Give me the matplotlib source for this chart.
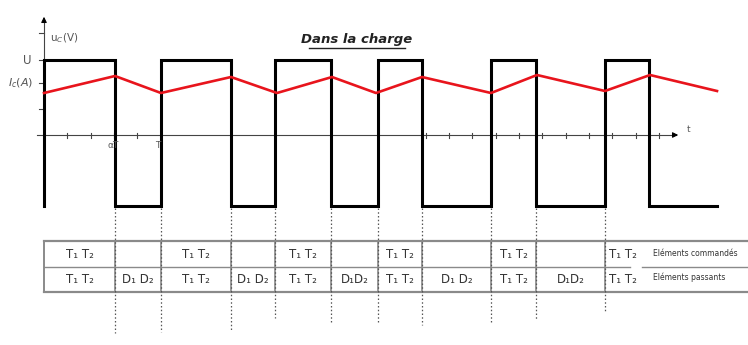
import numpy as np
import matplotlib.pyplot as plt

# échelle : 1 unité = 1 px, origine sur l'axe des temps
t0, t_end = 44, 717
fronts = [115, 161, 231, 275, 331, 378, 422, 491, 536, 605, 649]  # commutations
u_haut, u_bas = 75, -71  # +U / -U

# courant ic(t), sommets du triangle
ic_t = [44, 115, 161, 231, 277, 332, 376, 422, 491, 537, 605, 650, 717]
ic_val = [42, 59, 42, 58, 42, 58, 42, 58, 42, 60, 44, 60, 44]

# graduations
xticks_g = [67, 91, 114, 137]
xticks_d = [426, 449, 472, 496, 519, 542, 566, 589, 612, 636, 659]
yticks = [102, 75, 52, 26]

# tableau
cmd = ['T₁ T₂', '', 'T₁ T₂', '', 'T₁ T₂', '', 'T₁ T₂', '', 'T₁ T₂', '', 'T₁ T₂']
pas = ['T₁ T₂', 'D₁ D₂', 'T₁ T₂', 'D₁ D₂', 'T₁ T₂', 'D₁D₂', 'T₁ T₂', 'D₁ D₂', 'T₁ T₂', 'D₁D₂', 'T₁ T₂']
fin_pointilles = [-198, -197, -195, -183, -187, -188, -190, -187, -185, -178]

fig = plt.figure(figsize=(7.48, 3.45), dpi=100)
ax = fig.add_axes([0, 0, 1, 1])
ax.set_xlim(0, 748)
ax.set_ylim(-210, 135)
ax.axis('off')

gris = '#444444'

# axes
ax.plot([37, 676], [0, 0], color=gris, lw=0.8)
ax.annotate('', xy=(681, 0), xytext=(670, 0),
            arrowprops=dict(arrowstyle='-|>', color='black', lw=0.8, mutation_scale=8))
ax.plot([t0, t0], [u_bas, 116], color=gris, lw=0.8)
ax.annotate('', xy=(t0, 121), xytext=(t0, 110),
            arrowprops=dict(arrowstyle='-|>', color='black', lw=0.8, mutation_scale=8))
for x in xticks_g + xticks_d:
    ax.plot([x, x], [-2.5, 2.5], color=gris, lw=0.8)
for y in yticks:
    ax.plot([39, t0], [y, y], color=gris, lw=0.8)

# tension uc(t)
xs, ys = [t0, t0], [u_bas, u_haut]
niveau = u_haut
for f in fronts:
    xs += [f, f]
    ys += [niveau, u_haut + u_bas - niveau]
    niveau = u_haut + u_bas - niveau
xs.append(t_end)
ys.append(niveau)
ax.plot(xs, ys, color='black', lw=2.2, solid_joinstyle='miter')

# courant ic(t)
ax.plot(ic_t, ic_val, color='#e8141c', lw=1.9)

# textes
ax.text(50, 97, 'u$_C$(V)', fontsize=7.5, color='#555555', va='center')
ax.text(32, 75, 'U', fontsize=8.5, color='#555555', va='center', ha='right')
ax.text(33, 52, '$I_c(A)$', fontsize=8, color='#555555', va='center', ha='right')
ax.text(113, -10, 'αT', fontsize=6.5, color='#555555', ha='center', va='center')
ax.text(158, -10, 'T', fontsize=6.5, color='#555555', ha='center', va='center')
ax.text(689, 5, 't', fontsize=6.5, color='#555555', ha='center', va='center')
ax.text(357, 95, 'Dans la charge', fontsize=9.5, fontweight='bold', style='italic',
        color='#222222', ha='center', va='center')
ax.plot([309, 405], [87, 87], color='#222222', lw=1.0)

# tableau
y_h, y_m, y_b = -106, -132, -157
gris_t = '#8a8a8a'
ax.plot([t0, 748], [y_h, y_h], color=gris_t, lw=1.6)
ax.plot([t0, 748], [y_b, y_b], color=gris_t, lw=1.6)
ax.plot([t0, 630], [y_m, y_m], color=gris_t, lw=1.0)
ax.plot([642, 748], [y_m, y_m], color=gris_t, lw=1.0)
ax.plot([t0, t0], [y_h, y_b], color=gris_t, lw=1.4)
for f, fin in zip(fronts[:10], fin_pointilles):
    ax.plot([f, f], [y_h, y_b], color=gris_t, lw=1.2)
    ax.plot([f, f], [u_bas - 2, fin], color='#555555', lw=0.9, ls=(0, (1.2, 1.8)))

bords = [t0] + fronts[:10] + [640]
for i in range(len(cmd)):
    xc = (bords[i] + bords[i + 1]) / 2
    ax.text(xc, (y_h + y_m) / 2, cmd[i], fontsize=8.5, color='#333333', ha='center', va='center')
    ax.text(xc, (y_m + y_b) / 2, pas[i], fontsize=8.5, color='#333333', ha='center', va='center')
ax.text(653, (y_h + y_m) / 2 + 1, 'Eléments commandés', fontsize=5.5, color='#333333', va='center')
ax.text(653, (y_m + y_b) / 2 + 2, 'Eléments passants', fontsize=5.5, color='#333333', va='center')

fig.savefig('out.png', dpi=100, facecolor='white')
